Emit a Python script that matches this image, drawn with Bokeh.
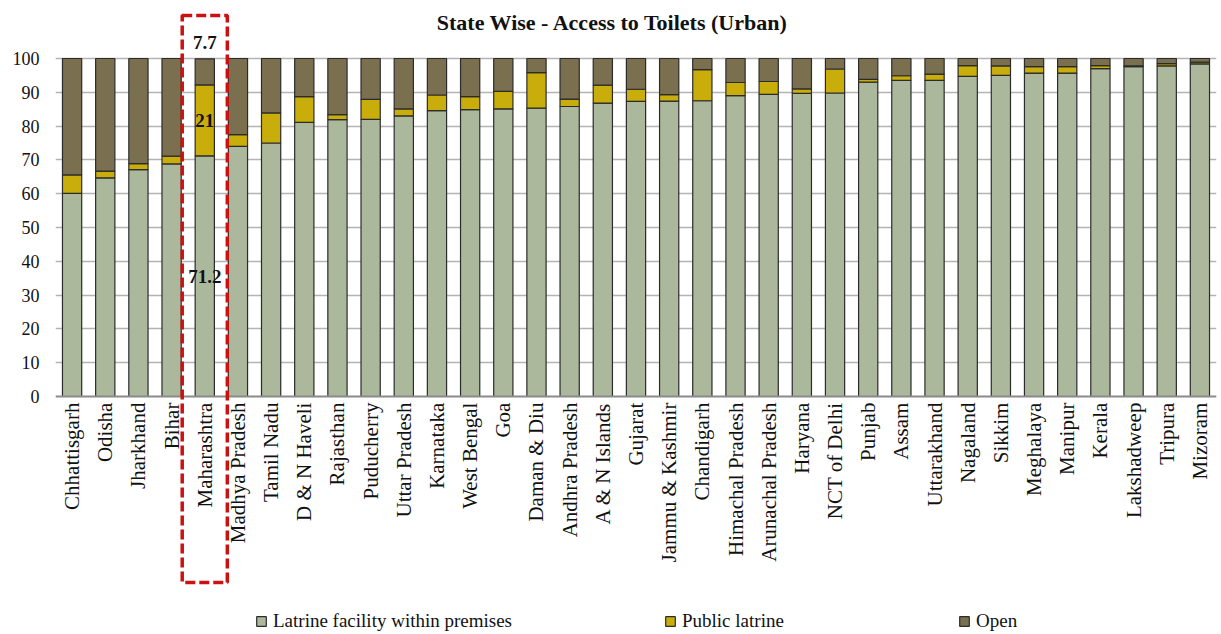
from bokeh.plotting import figure
from bokeh.models import ColumnDataSource, Range1d, FixedTicker, Span, Label, Legend, LegendItem, BoxAnnotation
from bokeh.core.properties import value
from bokeh.embed import file_html
from bokeh.resources import INLINE

states = ["Chhattisgarh", "Odisha", "Jharkhand", "Bihar", "Maharashtra", "Madhya Pradesh",
          "Tamil Nadu", "D & N Haveli", "Rajasthan", "Puducherry", "Uttar Pradesh", "Karnataka",
          "West Bengal", "Goa", "Daman & Diu", "Andhra Pradesh", "A & N Islands", "Gujarat",
          "Jammu & Kashmir", "Chandigarh", "Himachal Pradesh", "Arunachal Pradesh", "Haryana",
          "NCT of Delhi", "Punjab", "Assam", "Uttarakhand", "Nagaland", "Sikkim", "Meghalaya",
          "Manipur", "Kerala", "Lakshadweep", "Tripura", "Mizoram"]
premises = [60.1, 64.7, 67.1, 68.8, 71.2, 74.0, 75.0, 81.1, 81.9, 82.0, 83.0, 84.6,
            84.9, 85.1, 85.3, 85.8, 86.8, 87.3, 87.4, 87.5, 89.0, 89.4, 89.7,
            89.8, 93.0, 93.5, 93.5, 94.7, 95.0, 95.7, 95.7, 97.0, 97.6, 97.8, 98.4]
public = [5.5, 2.0, 1.8, 2.3, 21.0, 3.5, 8.9, 7.6, 1.5, 5.9, 2.1, 4.6,
          3.8, 5.2, 10.5, 2.2, 5.3, 3.6, 1.9, 9.2, 3.9, 3.8, 1.3,
          7.1, 0.8, 1.4, 1.9, 3.2, 2.8, 1.9, 1.9, 0.9, 0.2, 0.7, 0.5]
open_ = [34.4, 33.3, 31.1, 28.9, 7.7, 22.5, 16.1, 11.3, 16.6, 12.1, 14.9, 10.8,
         11.3, 9.7, 4.2, 12.0, 7.9, 9.1, 10.7, 3.3, 7.1, 6.8, 9.0,
         3.1, 6.2, 5.1, 4.6, 2.1, 2.2, 2.4, 2.4, 2.1, 2.2, 1.5, 1.1]
series = ["premises", "public", "open"]
series_labels = ["Latrine facility within premises", "Public latrine", "Open"]
colors = ["#abb89b", "#c9ad0b", "#7a7050"]
y_ticks = list(range(0, 101, 10))
highlight = "Maharashtra"

FONT = "Liberation Serif"
idx = list(range(len(states)))
src = ColumnDataSource(dict(x=idx, state=states, premises=premises, public=public, open=open_))

p = figure(width=1221, height=634, x_range=Range1d(-0.5, 34.5), y_range=Range1d(-70.41, 117.16),
           output_backend="svg", toolbar_location=None, x_axis_location=None,
           min_border_left=55, min_border_right=5, min_border_top=0, min_border_bottom=0,
           outline_line_color=None)

rs = p.vbar_stack(series, x="x", width=0.58, source=src, color=colors,
                  line_color="#2b2b2b", line_width=1.2)

# axes / grid
p.yaxis.ticker = FixedTicker(ticks=y_ticks)
p.yaxis.axis_line_color = None
p.yaxis.major_tick_line_color = None
p.yaxis.minor_tick_line_color = None
p.yaxis.major_label_standoff = 10
p.yaxis.major_label_text_font = FONT
p.yaxis.major_label_text_font_size = "18px"
p.yaxis.major_label_text_color = "#111111"
p.xgrid.visible = False
p.ygrid.ticker = FixedTicker(ticks=y_ticks[1:])
p.ygrid.grid_line_color = "#b4b4b4"
p.ygrid.grid_line_width = 1.5
p.add_layout(Span(location=0, dimension="width", line_color="#8a8a8a", line_width=2))

# category labels
p.text(x=idx, y=[-1.8] * len(idx), text=states, angle=1.5708,
       text_align="right", text_baseline="middle",
       text_font=value(FONT), text_font_size="21px", text_color="#111111")

# highlighted state labels: first two centred in their segments, the last above the bar
hi = states.index(highlight)
a, b, c = premises[hi], public[hi], open_[hi]
p.text(x=[hi] * 3, y=[a / 2, a + b / 2, a + b + c + 4.8],
       text=[f"{a:g}", f"{b:g}", f"{c:g}"], text_align="center", text_baseline="middle",
       text_font=value(FONT), text_font_size="19px", text_font_style="bold", text_color="#111111")

p.add_layout(BoxAnnotation(left=hi - 0.68, right=hi + 0.68, top=112.7, bottom=-55.0,
                           fill_color=None, fill_alpha=0, line_color="#cc1111", line_alpha=1.0,
                           line_width=3.5, line_dash="10 4"))

# title
p.add_layout(Label(x=16.3, y=110.6, text="State Wise - Access to Toilets (Urban)",
                   text_align="center", text_baseline="middle", text_font=FONT,
                   text_font_size="22px", text_font_style="bold", text_color="#111111"))

# legends
for r, lab, xpos in zip(rs, series_labels, [200, 609, 903]):
    lg = Legend(items=[LegendItem(label=lab, renderers=[r])], location=(xpos, 2),
                orientation="horizontal", border_line_color=None, background_fill_alpha=0,
                padding=0, margin=0, glyph_width=12, glyph_height=12, label_standoff=6,
                label_text_font=FONT, label_text_font_size="19px", label_text_color="#111111")
    p.add_layout(lg, "center")

open("out.html", "w").write(file_html(p, INLINE))
